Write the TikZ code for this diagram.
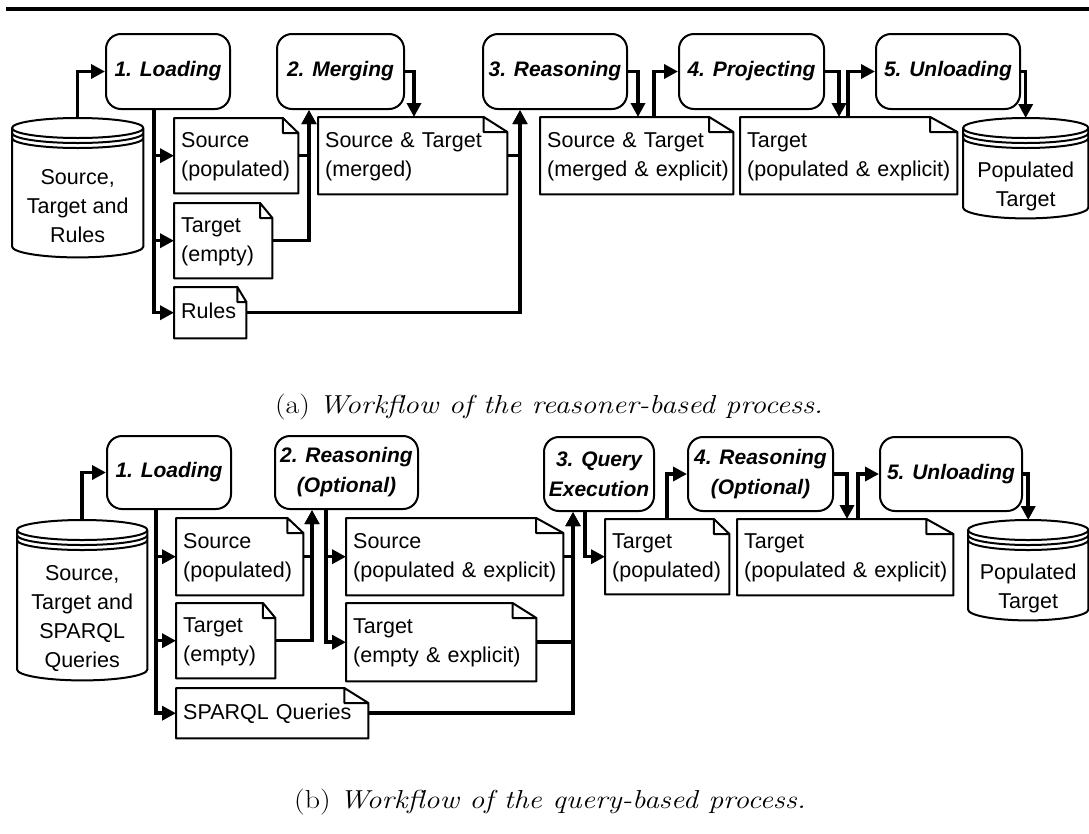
\documentclass[tikz,border=0pt]{standalone}
\usepackage{fontspec}
\usepackage{graphicx}
\setsansfont{Liberation Sans}
\usetikzlibrary{arrows.meta,calc}

% two or more left-aligned lines that never wrap
\newcommand\doclines[1]{\begin{tabular}{@{}l@{}}#1\end{tabular}}

% document outline with a folded top-right corner, drawn around a node
\newcommand\docframe[1]{%
  \draw[boxline] let \p1=(#1.north west), \p2=(#1.south east),
      \n1={0.125*(\x2-\x1)} in
    (\p1) -- ({\x2-\n1},{\y1}) -- ({\x2},{\y1-15pt}) -- (\p2) -- ({\x1},{\y2}) -- cycle
    ({\x2-\n1},{\y1}) -- ({\x2-\n1},{\y1-15pt}) -- ({\x2},{\y1-15pt});}

% database cylinder with a triple rim, drawn around a node
\newcommand\dbframe[1]{%
  \draw[boxline] let \p1=(#1.north west), \p2=(#1.south east),
      \n1={(\x2-\x1)/2} in
    ({\x1},{\y1-10pt}) -- ({\x1},{\y2+11pt})
      arc[start angle=180, end angle=360, x radius=\n1, y radius=11pt]
      -- ({\x2},{\y1-10pt})
    ({(\x1+\x2)/2},{\y1-10pt}) ellipse[x radius=\n1, y radius=10pt]
    ({\x1},{\y1-15pt}) arc[start angle=180, end angle=360, x radius=\n1, y radius=10pt]
    ({\x1},{\y1-20pt}) arc[start angle=180, end angle=360, x radius=\n1, y radius=10pt];}

% figure caption, widened a little
\newcommand\figcap[2]{\scalebox{1.15}[1]{(#1) \textit{#2}}}

\tikzset{
  diagfont/.style={font=\sffamily\fontsize{21.5}{29}\selectfont},
  boxline/.style={line width=2pt, line join=round},
  stepbox/.style={draw, line width=2pt, rounded corners=15pt, anchor=north west,
    inner sep=0pt, align=center, font=\sffamily\bfseries\itshape\fontsize{21}{30}\selectfont},
  docbox/.style={anchor=north west, inner xsep=7pt, inner ysep=0pt, diagfont},
  dbbox/.style={anchor=north west, inner sep=0pt},
  dbtext/.style={align=center, yshift=-18pt, diagfont},
  flow/.style={line width=3.5pt, -{Triangle[length=14pt,width=14pt]}},
  captext/.style={anchor=base, font=\fontsize{26}{30}\selectfont},
}

\begin{document}
\begin{tikzpicture}[x=1pt,y=-1pt]
\useasboundingbox (0,0) rectangle (1089,833);

% rule above the figure
\draw[line width=4pt] (6,9) -- (1089,9);

% ---------------- (a) reasoner-based process ----------------
\node[dbbox, minimum width=131pt, minimum height=139pt,
  label={[dbtext]center:Source,\\Target and\\Rules}] (db1) at (12,118) {};
\dbframe{db1}

\node[stepbox, minimum width=124pt, minimum height=75pt] (load)   at (105,33) {1. Loading};
\node[stepbox, minimum width=127pt, minimum height=75pt] (merge)  at (276,33) {2. Merging};
\node[stepbox, minimum width=144pt, minimum height=75pt] (reason) at (482,33) {3. Reasoning};
\node[stepbox, minimum width=145pt, minimum height=75pt] (proj)   at (678,33) {4. Projecting};
\node[stepbox, minimum width=144pt, minimum height=75pt] (unload) at (875,33) {5. Unloading};

\node[docbox, text width=110pt, minimum height=75pt] (srcpop)   at (174,118) {\doclines{Source\\(populated)}};
\node[docbox, text width=84pt,  minimum height=75pt] (tgtempty) at (174,203) {\doclines{Target\\(empty)}};
\node[docbox, text width=58pt,  minimum height=51pt] (rules)    at (174,287) {\doclines{Rules}};
\node[docbox, text width=175pt, minimum height=77pt] (merged)   at (318,117) {\doclines{Source \& Target\\(merged)}};
\node[docbox, text width=179pt, minimum height=77pt] (mex)      at (540,117) {\doclines{Source \& Target\\(merged \& explicit)}};
\node[docbox, text width=203pt, minimum height=77pt] (tpe)      at (740,117) {\doclines{Target\\(populated \& explicit)}};
\foreach \d in {srcpop,tgtempty,rules,merged,mex,tpe} {\docframe{\d}}

\node[dbbox, minimum width=125pt, minimum height=100pt,
  label={[dbtext]center:Populated\\Target}] (db2) at (963,118) {};
\dbframe{db2}

\coordinate (t1) at ([xshift=-14pt]load.south);
\coordinate (m1) at ([xshift=-31.5pt]merge.south);
\coordinate (mx) at ([xshift=9pt]merge.east);
\coordinate (r1) at ([xshift=-35pt]reason.south);
\coordinate (rx) at ([xshift=10pt]reason.east);
\coordinate (mu) at ([xshift=114pt]mex.north west);
\coordinate (px) at ([xshift=14pt]proj.east);
\coordinate (tu) at ([xshift=108pt]tpe.north west);

\draw[flow] (db1.north) |- (load.west);
\draw[flow] (t1) |- (srcpop.west);
\draw[flow] (t1) |- (tgtempty.west);
\draw[flow] (t1) |- (rules.west);
\draw[flow] (srcpop.east) -| (m1);
\draw[flow] (tgtempty.east) -| (m1);
\draw[flow] (merge.east) -| (mx |- merged.north);
\draw[flow] (merged.east) -| (r1);
\draw[flow] (rules.east) -| (r1);
\draw[flow] (reason.east) -| (rx |- mex.north);
\draw[flow] (mu) |- (proj.west);
\draw[flow] (proj.east) -| (px |- tpe.north);
\draw[flow] (tu) |- (unload.west);
\draw[flow] (unload.east) -| (db2.north);

\node[captext] (capa) at (549,413) {\figcap{a}{Workflow of the reasoner-based process.}};

% ---------------- (b) query-based process ----------------
\node[dbbox, minimum width=130pt, minimum height=160pt,
  label={[dbtext]center:Source,\\Target and\\SPARQL\\Queries}] (db3) at (17,520) {};
\dbframe{db3}

\node[stepbox, minimum width=124pt, minimum height=73pt] (load2)   at (106,435) {1. Loading};
\node[stepbox, minimum width=143pt, minimum height=73pt] (reason2) at (274,435) {2. Reasoning\\(Optional)};
\node[stepbox, minimum width=110pt, minimum height=74pt] (qe)      at (543,436) {3. Query\\Execution};
\node[stepbox, minimum width=145pt, minimum height=74pt] (reason4) at (687,436) {4. Reasoning\\(Optional)};
\node[stepbox, minimum width=142pt, minimum height=74pt] (unload2) at (879,436) {5. Unloading};

\node[docbox, text width=113pt, minimum height=77pt] (srcpop2)   at (176,518) {\doclines{Source\\(populated)}};
\node[docbox, text width=85pt,  minimum height=75pt] (tgtempty2) at (176,603) {\doclines{Target\\(empty)}};
\node[docbox, text width=178pt, minimum height=50pt] (sparql)    at (176,688) {\doclines{SPARQL Queries}};
\node[docbox, text width=203pt, minimum height=77pt] (spe)       at (346,518) {\doclines{Source\\(populated \& explicit)}};
\node[docbox, text width=176pt, minimum height=78pt] (tee)       at (346,603) {\doclines{Target\\(empty \& explicit)}};
\node[docbox, text width=110pt, minimum height=75pt] (tp2)       at (605,519) {\doclines{Target\\(populated)}};
\node[docbox, text width=202pt, minimum height=76pt] (tpe2)      at (737,519) {\doclines{Target\\(populated \& explicit)}};
\foreach \d in {srcpop2,tgtempty2,sparql,spe,tee,tp2,tpe2} {\docframe{\d}}

\node[dbbox, minimum width=120pt, minimum height=100pt,
  label={[dbtext]center:Populated\\Target}] (db4) at (968,520) {};
\dbframe{db4}

\coordinate (t2)  at ([xshift=-13pt]load2.south);
\coordinate (m2)  at ([xshift=-34.5pt]reason2.south);
\coordinate (t3)  at ([xshift=-20.5pt]reason2.south);
\coordinate (q1)  at ([xshift=-26pt]qe.south);
\coordinate (q2)  at ([xshift=-14pt]qe.south);
\coordinate (tu2) at ([xshift=62pt]tp2.north west);
\coordinate (rx4) at ([xshift=13pt]reason4.east);
\coordinate (tu3) at ([xshift=121pt]tpe2.north west);

\draw[flow] (db3.north) |- (load2.west);
\draw[flow] (t2) |- (srcpop2.west);
\draw[flow] (t2) |- (tgtempty2.west);
\draw[flow] (t2) |- (sparql.west);
\draw[flow] (srcpop2.east) -| (m2);
\draw[flow] (tgtempty2.east) -| (m2);
\draw[flow] (t3) |- (spe.west);
\draw[flow] (t3) |- (tee.west);
\draw[flow] (spe.east) -| (q1);
\draw[flow] (tee.east) -| (q1);
\draw[flow] (sparql.east) -| (q1);
\draw[flow] (q2) |- (tp2.west);
\draw[flow] (tu2) |- (reason4.west);
\draw[flow] (reason4.east) -| (rx4 |- tpe2.north);
\draw[flow] (tu3) |- (unload2.west);
\draw[flow] (unload2.east) -| (db4.north);

\node[captext] (capb) at (550,808) {\figcap{b}{Workflow of the query-based process.}};
\end{tikzpicture}
\end{document}
